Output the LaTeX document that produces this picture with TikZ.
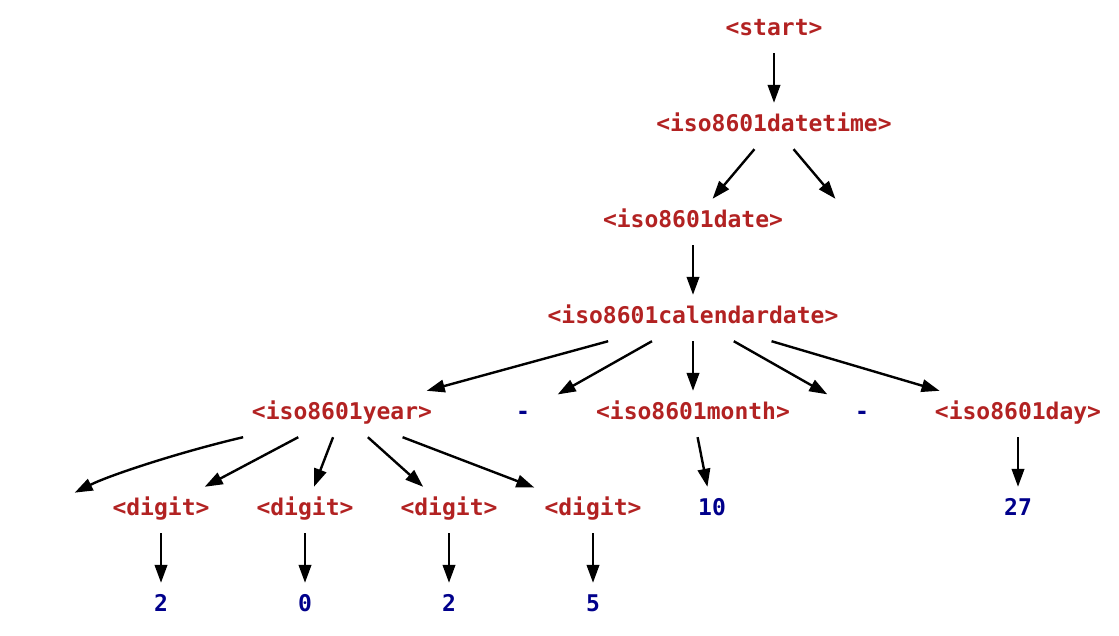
\documentclass[tikz,border=0pt]{standalone}
\usepackage{fontspec}
\setmonofont{DejaVu Sans Mono}
\usetikzlibrary{arrows.meta}
\definecolor{ntc}{RGB}{178,34,34}
\definecolor{tmc}{RGB}{0,0,139}
\begin{document}
\begin{tikzpicture}[x=1pt,y=-1pt,
  base/.style={rectangle, inner xsep=10pt, inner ysep=0pt, minimum width=69pt,
    minimum height=46pt, text height=28pt, text depth=18pt,
    font=\fontsize{23}{28}\selectfont\ttfamily\bfseries},
  nt/.style={base, text=ntc},
  tm/.style={base, text=tmc},
  arr/.style={-{Triangle[length=18pt,width=12.5pt]}, line width=2.4pt}]
\useasboundingbox (0,0) rectangle (1119,635);
\node[nt] (start) at (774,30) {<start>};
\node[nt] (dt) at (774,126) {<iso8601datetime>};
\node[base] (e2) at (855,222) {};
\node[nt] (date) at (693,222) {<iso8601date>};
\node[nt] (cal) at (693,318) {<iso8601calendardate>};
\node[nt] (year) at (342,414) {<iso8601year>};
\node[tm] (d1) at (523,414) {-};
\node[nt] (month) at (693,414) {<iso8601month>};
\node[tm] (d2) at (862,414) {-};
\node[nt] (day) at (1018,414) {<iso8601day>};
\node[base] (e1) at (40,510) {};
\node[nt] (g1) at (161,510) {<digit>};
\node[nt] (g2) at (305,510) {<digit>};
\node[nt] (g3) at (449,510) {<digit>};
\node[nt] (g4) at (593,510) {<digit>};
\node[tm] (m10) at (712,510) {10};
\node[tm] (d27) at (1018,510) {27};
\node[tm] (v1) at (161,606) {2};
\node[tm] (v2) at (305,606) {0};
\node[tm] (v3) at (449,606) {2};
\node[tm] (v4) at (593,606) {5};
\draw[arr] (start) -- (dt);
\draw[arr] (dt) -- (date);
\draw[arr] (dt) -- (e2);
\draw[arr] (date) -- (cal);
\draw[arr] (cal) -- (year);
\draw[arr] (cal) -- (d1);
\draw[arr] (cal) -- (month);
\draw[arr] (cal) -- (d2);
\draw[arr] (cal) -- (day);
\draw[arr] (year) .. controls (180,452) and (110,475) .. (e1);
\draw[arr] (year) -- (g1);
\draw[arr] (year) -- (g2);
\draw[arr] (year) -- (g3);
\draw[arr] (year) -- (g4);
\draw[arr] (month) -- (m10);
\draw[arr] (day) -- (d27);
\draw[arr] (g1) -- (v1);
\draw[arr] (g2) -- (v2);
\draw[arr] (g3) -- (v3);
\draw[arr] (g4) -- (v4);
\end{tikzpicture}
\end{document}
